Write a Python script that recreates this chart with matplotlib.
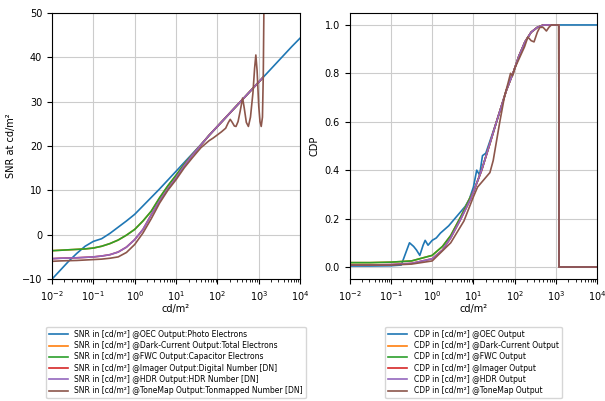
import numpy as np
import matplotlib.pyplot as plt

# luminance grids as log10(cd/m^2)
snr_logx = [-2.0, -1.8, -1.6, -1.4, -1.2, -1.0, -0.8, -0.6, -0.4, -0.2,
            0.0, 0.2, 0.4, 0.6, 0.8, 1.0, 1.2, 1.4, 1.6, 1.8,
            2.0, 2.2, 2.4, 2.6, 2.8, 3.0, 3.2, 3.4, 3.6, 3.8, 4.0]

snr_oec = [-10.0, -8.0, -6.0, -4.2, -2.6, -1.5, -0.9, 0.3, 1.7, 3.1,
           4.6, 6.5, 8.4, 10.3, 12.3, 14.3, 16.3, 18.3, 20.3, 22.4,
           24.4, 26.4, 28.4, 30.4, 32.4, 34.4, 36.4, 38.4, 40.4, 42.4, 44.3]

# sensor stages saturate just above 1e3 cd/m^2
sat_logx = snr_logx[:26] + [3.1]

snr_fwc = [-3.6, -3.5, -3.4, -3.3, -3.2, -3.0, -2.6, -2.0, -1.2, -0.1,
           1.2, 3.1, 5.3, 8.3, 11.0, 13.4, 15.9, 18.1, 20.2, 22.4,
           24.4, 26.4, 28.4, 30.4, 32.4, 34.4, 35.4]

snr_dark = snr_fwc

snr_hdr = [-5.4, -5.3, -5.25, -5.2, -5.1, -5.0, -4.8, -4.5, -3.9, -2.8,
           -1.1, 1.2, 4.5, 7.6, 10.3, 12.8, 15.6, 18.0, 20.2, 22.4,
           24.4, 26.4, 28.4, 30.4, 32.4, 34.4, 35.4]

snr_imager = snr_hdr

tm_logx = [-2.0, -1.8, -1.6, -1.4, -1.2, -1.0, -0.8, -0.6, -0.4, -0.2,
           0.0, 0.2, 0.4, 0.6, 0.8, 1.0, 1.2, 1.4, 1.6, 1.8,
           1.9, 2.0, 2.1, 2.2, 2.26, 2.31, 2.36, 2.41, 2.45, 2.5,
           2.55, 2.61, 2.65, 2.7, 2.75, 2.8, 2.86, 2.9, 2.93, 2.96,
           3.0, 3.03, 3.06, 3.09, 3.11, 3.13]

snr_tonemap = [-6.0, -5.9, -5.85, -5.8, -5.7, -5.6, -5.5, -5.3, -5.0, -4.0,
               -2.2, 0.4, 3.6, 7.1, 10.0, 12.4, 15.1, 17.4, 19.6, 21.2,
               21.8, 22.5, 23.2, 24.0, 25.2, 26.0, 25.3, 24.5, 24.4, 25.5,
               27.8, 30.8, 28.5, 25.3, 24.4, 26.5, 32.0, 37.5, 40.5, 37.0,
               29.0, 25.5, 24.4, 26.5, 36.0, 56.0]

# CDP curves
cdp_oec_logx = [-2.0, -1.5, -1.0, -0.75, -0.55, -0.45, -0.38, -0.3, -0.22, -0.17,
                -0.1, 0.0, 0.1, 0.2, 0.3, 0.4, 0.5, 0.6, 0.7, 0.8,
                0.9, 1.0, 1.08, 1.15, 1.22, 1.3, 1.4, 1.5, 1.56, 1.8,
                1.98, 2.1, 2.25, 2.4, 2.55, 2.7, 3.0, 4.0]
cdp_oec = [0.004, 0.004, 0.005, 0.008, 0.10, 0.085, 0.07, 0.048, 0.09, 0.11,
           0.09, 0.11, 0.12, 0.14, 0.155, 0.17, 0.19, 0.21, 0.23, 0.25,
           0.28, 0.33, 0.40, 0.38, 0.46, 0.47, 0.52, 0.57, 0.60, 0.73,
           0.81, 0.87, 0.93, 0.97, 0.99, 1.0, 1.0, 1.0]

cdp_logx = [-2.0, -1.5, -1.0, -0.5, 0.0, 0.25, 0.45, 0.7, 0.93, 1.0,
            1.2, 1.4, 1.56, 1.8, 1.98, 2.1, 2.25, 2.4, 2.55, 2.7,
            3.07, 3.075, 4.0]
cdp_fwc = [0.018, 0.018, 0.02, 0.025, 0.048, 0.085, 0.13, 0.21, 0.29, 0.31,
           0.40, 0.51, 0.60, 0.73, 0.81, 0.87, 0.93, 0.97, 0.99, 1.0,
           1.0, 0.0, 0.0]
cdp_dark = cdp_fwc
cdp_hdr = [0.008, 0.008, 0.01, 0.015, 0.034, 0.07, 0.12, 0.20, 0.28, 0.31,
           0.40, 0.51, 0.60, 0.73, 0.81, 0.87, 0.93, 0.97, 0.99, 1.0,
           1.0, 0.0, 0.0]
cdp_imager = cdp_hdr

cdp_tm_logx = [-2.0, -1.5, -1.0, -0.5, 0.0, 0.45, 0.77, 1.0, 1.1, 1.2,
               1.3, 1.4, 1.48, 1.56, 1.64, 1.76, 1.84, 1.9, 1.95, 2.0,
               2.08, 2.16, 2.24, 2.32, 2.4, 2.47, 2.55, 2.61, 2.69, 2.77,
               2.83, 2.89, 3.07, 3.075, 4.0]
cdp_tonemap = [0.008, 0.008, 0.008, 0.012, 0.025, 0.10, 0.19, 0.29, 0.33, 0.35,
               0.37, 0.39, 0.44, 0.52, 0.60, 0.71, 0.76, 0.80, 0.79, 0.82,
               0.85, 0.88, 0.91, 0.95, 0.935, 0.93, 0.97, 0.99, 0.99, 0.975,
               0.99, 1.0, 1.0, 0.0, 0.0]

stages = ["@OEC Output", "@Dark-Current Output", "@FWC Output",
          "@Imager Output", "@HDR Output", "@ToneMap Output"]
snr_units = [":Photo Electrons", ":Total Electrons", ":Capacitor Electrons",
             ":Digital Number [DN]", ":HDR Number [DN]",
             ":Tonmapped Number [DN]"]


def lum(logx):
    return 10.0 ** np.array(logx)


fig = plt.figure(figsize=(6.05, 4.01), dpi=100)
ax1 = fig.add_axes([0.086, 0.304, 0.41, 0.664])
ax2 = fig.add_axes([0.578, 0.304, 0.409, 0.664])

# SNR
snr_series = [
    (snr_logx, snr_oec),
    (sat_logx, snr_dark),
    (sat_logx, snr_fwc),
    (sat_logx, snr_imager),
    (sat_logx, snr_hdr),
    (tm_logx, snr_tonemap),
]
for i, (lx, y) in enumerate(snr_series):
    ax1.plot(lum(lx), y, color=f"C{i}", linewidth=1.2,
             label="SNR in [cd/m²] " + stages[i] + snr_units[i])

ax1.set_xscale("log")
ax1.set_xlim(1e-2, 1e4)
ax1.set_ylim(-10, 50)
ax1.set_xlabel("cd/m²", fontsize=7, labelpad=1)
ax1.set_ylabel("SNR at cd/m²", fontsize=7)
ax1.grid(True, color="#cccccc")
ax1.tick_params(labelsize=7)
ax1.legend(loc="upper center", bbox_to_anchor=(0.5, -0.165),
           fontsize=5.5, labelspacing=0.3, handlelength=2.5)

# CDP
cdp_series = [
    (cdp_oec_logx, cdp_oec),
    (cdp_logx, cdp_dark),
    (cdp_logx, cdp_fwc),
    (cdp_logx, cdp_imager),
    (cdp_logx, cdp_hdr),
    (cdp_tm_logx, cdp_tonemap),
]
for i, (lx, y) in enumerate(cdp_series):
    ax2.plot(lum(lx), y, color=f"C{i}", linewidth=1.2,
             label="CDP in [cd/m²] " + stages[i])

ax2.set_xscale("log")
ax2.set_xlim(1e-2, 1e4)
ax2.set_ylim(-0.05, 1.05)
ax2.set_xlabel("cd/m²", fontsize=7, labelpad=1)
ax2.set_ylabel("CDP", fontsize=7)
ax2.grid(True, color="#cccccc")
ax2.tick_params(labelsize=7)
ax2.legend(loc="upper center", bbox_to_anchor=(0.5, -0.165),
           fontsize=5.5, labelspacing=0.3, handlelength=2.5)

fig.savefig("out.png", dpi=100)
